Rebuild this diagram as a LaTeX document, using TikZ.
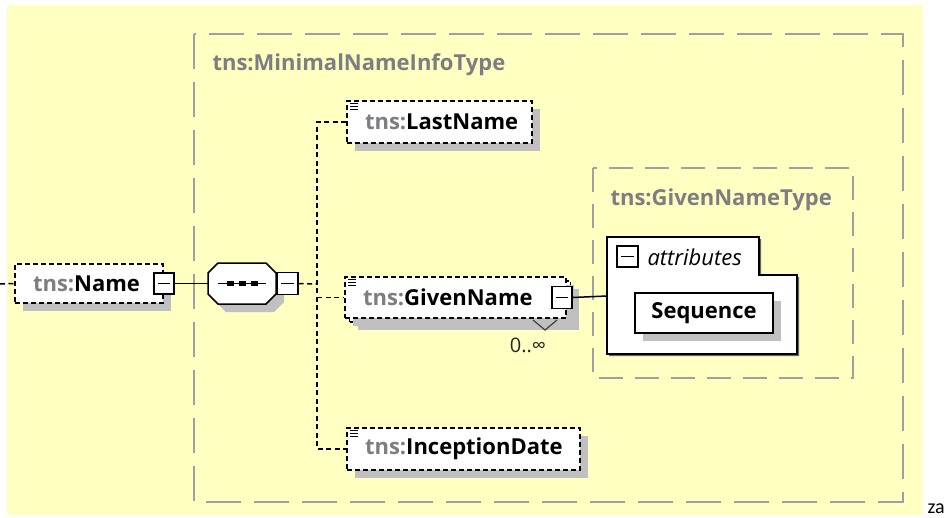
\documentclass[tikz,border=0pt]{standalone}
\usepackage{fontspec}
\setmainfont{Open Sans}
\newfontfamily\zafont{Carlito}
\usetikzlibrary{shadows,calc}
\definecolor{bgyellow}{RGB}{255,255,194}
\definecolor{framegray}{RGB}{160,160,160}
\definecolor{tnsgray}{RGB}{125,125,130}
\definecolor{shadowgray}{RGB}{192,192,192}
\newcommand{\elemtext}[2]{\makebox[#1][l]{\textcolor{tnsgray}{tns:}#2}}
\tikzset{
  elem/.style={draw, fill=white, line width=1.5pt, dash pattern=on 5pt off 3pt,
    inner xsep=18pt, inner ysep=0pt, font=\fontsize{22}{26}\selectfont\bfseries,
    drop shadow={shadow xshift=8pt, shadow yshift=-8pt, fill=shadowgray, opacity=1}},
  minus/.style={draw, fill=white, line width=1.5pt, solid, minimum width=20pt,
    minimum height=21pt, inner sep=0pt,
    path picture={\draw[line width=1.5pt] ([xshift=4pt]path picture bounding box.west)
      -- ([xshift=-4pt]path picture bounding box.east);}},
  frame/.style={draw=framegray, line width=2pt, dash pattern=on 35pt off 13pt},
  typelabel/.style={anchor=west, text=tnsgray, font=\fontsize{22}{26}\selectfont\bfseries},
  conn/.style={line width=1.5pt, dash pattern=on 5pt off 3.5pt},
  link/.style={line width=1.5pt}
}
\begin{document}
\begin{tikzpicture}[x=1pt,y=-1pt]
  \useasboundingbox (0,0) rectangle (947,517);
  \fill[bgyellow] (7,5) rectangle (923,515);
  % type frames
  \draw[frame] (194,34) rectangle (903,502);
  \node[typelabel] (minimaltype) at (209,65) {tns:MinimalNameInfoType};
  \draw[frame, dash pattern=on 24pt off 12pt] (593,168) rectangle (853,378);
  \node[typelabel] (giventype) at (607,200) {tns:GivenNameType};
  % root element
  \node[elem, minimum height=39pt] (name) at (89,283.5) {\elemtext{112pt}{Name}};
  \node[minus] (nameminus) at (name.east) {};
  % sequence compositor
  \fill[shadowgray, shift={(8,8)}] (218,263) -- (266,263) -- (276,273) -- (276,294)
    -- (266,304) -- (218,304) -- (208,294) -- (208,273) -- cycle;
  \draw[fill=white, line width=1.5pt] (218,263) -- (266,263) -- (276,273) -- (276,294)
    -- (266,304) -- (218,304) -- (208,294) -- (208,273) -- cycle;
  \node[minimum width=68pt, minimum height=41pt, inner sep=0pt] (seq) at (242,283.5) {};
  \draw[link] ($(seq.west)+(10,0)$) -- ($(seq.east)+(-10,0)$);
  \foreach \dx in {-12,0,12}
    \fill ($(seq.center)+(\dx,0)+(-3.5,-2.5)$) rectangle +(7,5);
  \node[minus, anchor=west, minimum width=21pt, minimum height=22pt] (seqminus) at (seq.east) {};
  % child elements
  \node[elem, minimum height=42pt] (last) at (439.5,122) {\elemtext{149pt}{LastName}};
  \node[elem, minimum height=41pt] (givenback) at (460,301.5) {\makebox[185pt]{}};
  \node[elem, minimum height=41pt, drop shadow={opacity=0}] (given) at (455.5,297.5) {\elemtext{185pt}{GivenName}};
  \node[minus, minimum height=22pt] (givenminus) at ([xshift=-5pt]given.east) {};
  \draw[line width=1.2pt, black!75] (533,320) -- (545,330) -- (557,320);
  \node[font=\fontsize{20}{24}\selectfont, text=black!85] (card) at (528,345) {0..∞};
  \node[elem, minimum height=42pt] (inception) at (463.5,449) {\elemtext{197pt}{InceptionDate}};
  \foreach \e in {last,given,inception}
    \foreach \dy in {3,6,9}
      \draw[line width=1pt] ($(\e.north west)+(4,\dy)$) -- +(8,0);
  % attributes of GivenNameType
  \fill[black!60, shift={(2,2)}] (607,237) -- (759,237) -- (759,275) -- (797,275)
    -- (797,354) -- (607,354) -- cycle;
  \draw[fill=white, line width=1.5pt] (607,237) -- (759,237) -- (759,275) -- (797,275)
    -- (797,354) -- (607,354) -- cycle;
  \coordinate (attrin) at (607,296);
  \node[minus, minimum width=21pt] (attrminus) at (627.5,256.5) {};
  \node[anchor=west, font=\fontsize{22}{26}\selectfont\itshape] (attrlabel) at (644,257) {attributes};
  \node[draw, fill=white, line width=1.5pt, minimum width=138pt, minimum height=40pt,
    font=\fontsize{22}{26}\selectfont\bfseries,
    drop shadow={shadow xshift=8pt, shadow yshift=-8pt, fill=shadowgray, opacity=1}]
    (sequence) at (704,313) {Sequence};
  % connectors
  \coordinate (namein) at (0,284);
  \coordinate (trunk) at (317,284);
  \draw[conn] (namein) -- (name.west);
  \draw[link] (nameminus.east) -- (seq.west);
  \draw[conn] (seqminus.east) -- (trunk);
  \draw[conn] (last.west) -- (last.west -| trunk) -- (inception.west -| trunk) -- (inception.west);
  \draw[conn] (given.west -| trunk) -- (given.west);
  \draw[link] (givenminus.east) -- (attrin);
  \node[anchor=base west, font=\zafont\fontsize{20}{24}\selectfont] (za) at (924,513) {za};
\end{tikzpicture}
\end{document}
